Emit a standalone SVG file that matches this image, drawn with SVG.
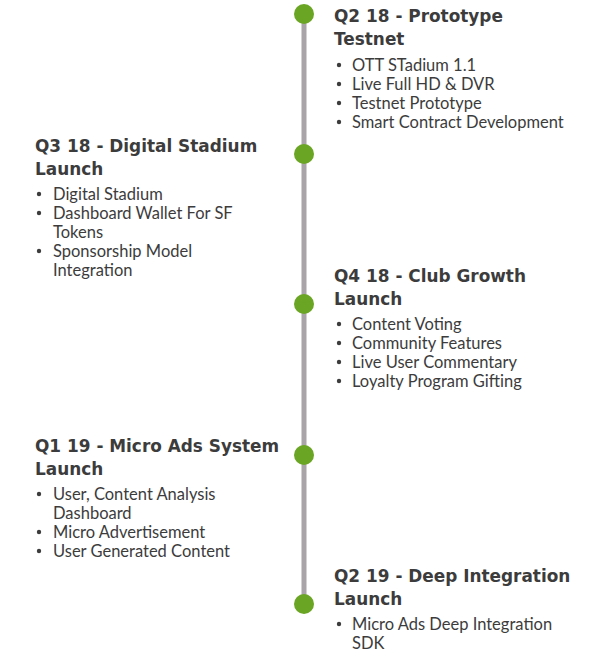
<svg xmlns="http://www.w3.org/2000/svg" width="611" height="671" viewBox="0 0 611 671">
<style>
.t{font-family:"DejaVu Sans",sans-serif;font-weight:bold;font-size:16.9px;fill:#3c3c3c}
.b{font-family:"Lato","Liberation Sans",sans-serif;font-size:16.5px;fill:#3c3c3c}
.dot{fill:#6aa523}
.bu{fill:#3c3c3c}
</style>
<rect width="611" height="671" fill="#fff"/>
<g id="connectors"><line x1="304" y1="14" x2="304" y2="604" stroke="#a9a4a7" stroke-width="5"/></g>
<g id="n1"><circle class="dot" cx="304" cy="14" r="10"/>
<text class="t" x="334" y="22">Q2 18 - Prototype</text><text class="t" x="334" y="45">Testnet</text>
<g class="b"><circle class="bu" cx="339" cy="65" r="2.2"/><text x="352" y="71">OTT STadium 1.1</text>
<circle class="bu" cx="339" cy="84" r="2.2"/><text x="352" y="90">Live Full HD &amp; DVR</text>
<circle class="bu" cx="339" cy="103" r="2.2"/><text x="352" y="109">Testnet Prototype</text>
<circle class="bu" cx="339" cy="122" r="2.2"/><text x="352" y="128">Smart Contract Development</text></g></g>
<g id="n2"><circle class="dot" cx="304" cy="154" r="10"/>
<text class="t" x="35" y="152">Q3 18 - Digital Stadium</text><text class="t" x="35" y="175">Launch</text>
<g class="b"><circle class="bu" cx="39" cy="194" r="2.2"/><text x="53" y="200">Digital Stadium</text>
<circle class="bu" cx="39" cy="213" r="2.2"/><text x="53" y="219">Dashboard Wallet For SF</text><text x="53" y="238">Tokens</text>
<circle class="bu" cx="39" cy="251" r="2.2"/><text x="53" y="257">Sponsorship Model</text><text x="53" y="276">Integration</text></g></g>
<g id="n3"><circle class="dot" cx="304" cy="304" r="10"/>
<text class="t" x="334" y="282">Q4 18 - Club Growth</text><text class="t" x="334" y="305">Launch</text>
<g class="b"><circle class="bu" cx="339" cy="324" r="2.2"/><text x="352" y="330">Content Voting</text>
<circle class="bu" cx="339" cy="343" r="2.2"/><text x="352" y="349">Community Features</text>
<circle class="bu" cx="339" cy="362" r="2.2"/><text x="352" y="368">Live User Commentary</text>
<circle class="bu" cx="339" cy="381" r="2.2"/><text x="352" y="387">Loyalty Program Gifting</text></g></g>
<g id="n4"><circle class="dot" cx="304" cy="455" r="10"/>
<text class="t" x="35" y="452">Q1 19 - Micro Ads System</text><text class="t" x="35" y="475">Launch</text>
<g class="b"><circle class="bu" cx="39" cy="494" r="2.2"/><text x="53" y="500">User, Content Analysis</text><text x="53" y="519">Dashboard</text>
<circle class="bu" cx="39" cy="532" r="2.2"/><text x="53" y="538">Micro Advertisement</text>
<circle class="bu" cx="39" cy="551" r="2.2"/><text x="53" y="557">User Generated Content</text></g></g>
<g id="n5"><circle class="dot" cx="304" cy="604" r="10"/>
<text class="t" x="334" y="582">Q2 19 - Deep Integration</text><text class="t" x="334" y="605">Launch</text>
<g class="b"><circle class="bu" cx="339" cy="624" r="2.2"/><text x="352" y="630">Micro Ads Deep Integration</text><text x="352" y="649">SDK</text></g></g>
</svg>
